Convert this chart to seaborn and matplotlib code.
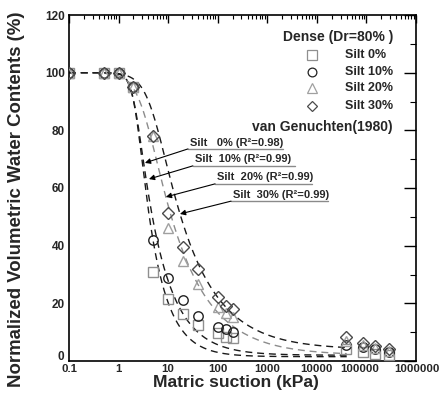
import numpy as np
import pandas as pd
import matplotlib
matplotlib.use("Agg")
import matplotlib.pyplot as plt
import seaborn as sns
from matplotlib.ticker import FixedLocator, FixedFormatter, LogLocator, NullFormatter, MultipleLocator
from matplotlib.transforms import ScaledTranslation

sns.set_theme(style="white")
plt.rcParams['font.family'] = ['Liberation Sans', 'DejaVu Sans']
plt.rcParams['font.weight'] = 'bold'

# ---- data ----
suction = [0.1, 0.5, 1, 2, 5, 10, 20, 40, 100, 150, 200, 38000, 85000, 150000, 290000]
silt0 = [100, 100, 100, 95, 31, 21.5, 16.3, 12.5, 9.7, 8.3, 8.0, 4.0, 3.2, 2.5, 2.0]
silt10 = [100, 100, 100, 95, 42, 28.8, 21.2, 15.6, 11.8, 11.1, 10.1, 5.5, 5.0, 4.0, 3.0]
silt20 = [100, 100, 100, 95, 78, 46.1, 34.7, 26.7, 18.7, 16.6, 15.3, 7.0, 5.5, 4.5, 3.5]
silt30 = [100, 100, 100, 95, 78, 51.3, 39.5, 31.9, 22.2, 19.1, 18.0, 8.4, 6.3, 5.2, 4.2]
series_names = ["Silt 0%", "Silt 10%", "Silt 20%", "Silt 30%"]

# van Genuchten fit parameters (estimated from the drawn curves)
vg_alpha = [0.452, 0.48, 0.31, 0.208]
vg_n = [5.0, 5.0, 2.5, 2.5]
vg_m = [0.22, 0.17, 0.22, 0.22]
vg_res = [1.5, 2.0, 2.0, 4.0]
r2 = ["0.98", "0.99", "0.99", "0.99"]
ann_labels = ["Silt   0% (R\u00b2={})", "Silt  10% (R\u00b2={})", "Silt  20% (R\u00b2={})", "Silt  30% (R\u00b2={})"]
# arrow tip positions (suction kPa, %)
tip_x = [3.4, 4.1, 9.0, 17.3]
tip_y = [68.7, 63.1, 56.9, 51.0]

xtick_vals = [0.1, 1, 10, 100, 1000, 10000, 100000, 1000000]
xtick_labels = ["0.1", "1", "10", "100", "1000", "10000", "100000", "1000000"]
ytick_vals = [0, 20, 40, 60, 80, 100, 120]

# ---- figure ----
W, H = 441, 403
fig = plt.figure(figsize=(W/100, H/100), dpi=100)
ax = fig.add_axes([69/W, 1-361/H, (416-69)/W, (361-15)/H])

df = pd.DataFrame({"suction": suction * 4,
                   "value": silt0 + silt10 + silt20 + silt30,
                   "series": np.repeat(series_names, len(suction))})

# fitted curves
psi = np.logspace(-1, np.log10(40000), 500)
curve_colors = ["#1a1a1a", "#1a1a1a", "#8c8c8c", "#1a1a1a"]
for i, name in enumerate(series_names):
    th = vg_res[i] + (100 - vg_res[i]) * (1 + (vg_alpha[i] * psi) ** vg_n[i]) ** (-vg_m[i])
    cdf = pd.DataFrame({"suction": psi, "value": th})
    sns.lineplot(data=cdf, x="suction", y="value", ax=ax, color=curve_colors[i],
                 lw=1.0, linestyle=(0, (5, 3.5)), zorder=2)

markers = {"Silt 0%": "s", "Silt 10%": "o", "Silt 20%": "^", "Silt 30%": "D"}
edge = {"Silt 0%": "#8f8f8f", "Silt 10%": "#222222", "Silt 20%": "#a0a0a0", "Silt 30%": "#4a4a4a"}
sizes = {"Silt 0%": 6.5, "Silt 10%": 6.8, "Silt 20%": 7.5, "Silt 30%": 6.3}
for name in series_names:
    sub = df[df.series == name]
    ax.plot(sub.suction, sub.value, linestyle="none", marker=markers[name], ms=sizes[name],
            mfc="none", mec=edge[name], mew=1.0, zorder=3)

ax.set_xscale("log")
ax.set_xlim(0.1, 1000000)
ax.set_ylim(0, 120)
ax.xaxis.set_major_locator(FixedLocator(xtick_vals))
ax.xaxis.set_major_formatter(FixedFormatter(xtick_labels))
ax.xaxis.set_minor_locator(LogLocator(base=10, subs=np.arange(2, 10), numticks=20))
ax.xaxis.set_minor_formatter(NullFormatter())
ax.yaxis.set_major_locator(FixedLocator(ytick_vals))
ax.yaxis.set_minor_locator(MultipleLocator(10))
ax.tick_params(axis="x", which="major", direction="in", length=5.5, width=1, top=True,
               labelsize=8.2, pad=2, color="black")
ax.tick_params(axis="y", which="major", direction="in", length=8.5, width=1, right=True,
               labelsize=8.5, pad=3, color="black")
ax.tick_params(axis="x", which="minor", direction="in", length=3, width=0.8, top=True, color="black")
ax.tick_params(axis="y", which="minor", direction="in", length=4, width=0.8, right=True, color="black")
for t in ax.get_xticklabels() + ax.get_yticklabels():
    t.set_fontweight("bold")
for s in ax.spines.values():
    s.set_color("black")
    s.set_linewidth(1.2)

ax.set_xlabel("Matric suction (kPa)", fontsize=12.6, fontweight="bold", va="center")
ax.xaxis.set_label_coords((236-69)/347, (361-382)/346)
ax.set_ylabel("Normalized Volumetric Water Contents (%)", fontsize=13.4, fontweight="bold", va="center")
ax.yaxis.set_label_coords((17-69)/347, (361-199)/346)

# legend (manual)
ax.text(0.934, 0.935, "Dense (Dr=80% )", transform=ax.transAxes, ha="right", va="center",
        fontsize=10, fontweight="bold")
leg_y = [0.884, 0.835, 0.789, 0.737]
leg_ms = [6.8, 6.3, 6.8, 5.6]
for name, yy, lm in zip(series_names, leg_y, leg_ms):
    ax.plot([0.70], [yy], transform=ax.transAxes, marker=markers[name], ms=lm,
            mfc="none", mec=edge[name], mew=0.9, linestyle="none", clip_on=False)
    ax.text(0.795, yy, name, transform=ax.transAxes, ha="left", va="center",
            fontsize=9, fontweight="bold")

ax.text(0.934, 0.676, "van Genuchten(1980)", transform=ax.transAxes, ha="right", va="center",
        fontsize=10, fontweight="bold")

# annotations with underline and arrows
text_x = [0.343, 0.357, 0.421, 0.467]
text_y = [0.613, 0.564, 0.512, 0.462]
line_w = [0.274, 0.294, 0.280, 0.280]
for i in range(4):
    lbl = ann_labels[i].format(r2[i])
    ax.text(text_x[i] + 0.006, text_y[i] + 0.004, lbl, transform=ax.transAxes, ha="left", va="bottom",
            fontsize=8, fontweight="bold")
    ax.plot([text_x[i], text_x[i] + line_w[i]], [text_y[i], text_y[i]], transform=ax.transAxes,
            color="#8a8a8a", lw=1.0)
    ax.annotate("", xy=(tip_x[i], tip_y[i]), xycoords="data",
                xytext=(text_x[i], text_y[i]), textcoords="axes fraction",
                arrowprops=dict(arrowstyle="-|>", color="black", lw=0.8,
                                mutation_scale=8, shrinkA=0, shrinkB=0))

fig.canvas.draw()
# nudge a few tick labels like in the reference
xl = ax.get_xticklabels()
xl[-2].set_transform(xl[-2].get_transform() + ScaledTranslation(-7/100, 0, fig.dpi_scale_trans))
xl[-1].set_transform(xl[-1].get_transform() + ScaledTranslation(1/100, 0, fig.dpi_scale_trans))
yl = ax.get_yticklabels()
yl[0].set_transform(yl[0].get_transform() + ScaledTranslation(-1/100, 5/100, fig.dpi_scale_trans))

fig.savefig("out.png", dpi=100)
